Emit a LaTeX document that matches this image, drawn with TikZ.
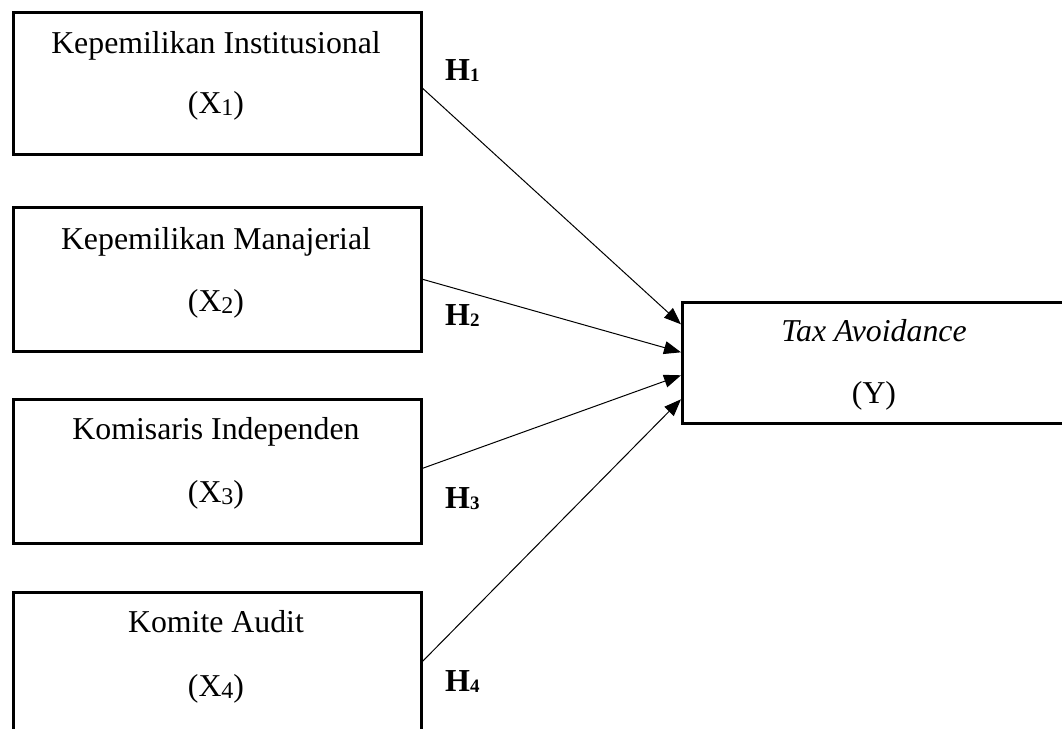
\documentclass[tikz,border=0pt]{standalone}
\usepackage{fontspec}
\setmainfont{Liberation Serif}
\usetikzlibrary{arrows.meta,calc}
\newcommand{\xsub}[1]{\raisebox{-2.5pt}{\fontsize{24}{24}\selectfont #1}}
\newcommand{\hsub}[1]{\raisebox{-1.5pt}{\fontsize{19}{19}\selectfont\bfseries #1}}
\begin{document}
\begin{tikzpicture}[x=1pt,y=-1pt,
 box/.style={draw,line width=2.6pt,rectangle,inner sep=0pt,anchor=north west},
 lbl/.style={anchor=base,inner sep=0pt,font=\fontsize{31.8}{36}\selectfont},
 hyp/.style={anchor=base west,inner sep=0pt,font=\fontsize{32}{36}\selectfont\bfseries},
 arr/.style={line width=1pt,-{Triangle[length=17pt,width=13pt]}}]
\useasboundingbox (0,0) rectangle (1062,728);
\clip (0,0) rectangle (1062,728);
% boxes
\node[box,minimum width=408pt,minimum height=142pt] (b1) at (12,11) {};
\node[box,minimum width=408pt,minimum height=144pt] (b2) at (12,206) {};
\node[box,minimum width=408pt,minimum height=144pt] (b3) at (12,398) {};
\node[box,minimum width=408pt,minimum height=144pt] (b4) at (12,591) {};
\node[box,minimum width=386pt,minimum height=121pt] (y) at (681,301) {};
% texts
\node[lbl] (t1a) at (216,53) {Kepemilikan Institusional};
\node[lbl] (t1b) at (216,113) {(X\xsub{1})};
\node[lbl] (t2a) at (216,249) {Kepemilikan Manajerial};
\node[lbl] (t2b) at (216,311) {(X\xsub{2})};
\node[lbl] (t3a) at (216,439) {Komisaris Independen};
\node[lbl] (t3b) at (216,502) {(X\xsub{3})};
\node[lbl] (t4a) at (216,632) {Komite Audit};
\node[lbl] (t4b) at (216,696) {(X\xsub{4})};
\node[lbl] (tya) at (874,341) {\itshape Tax Avoidance};
\node[lbl] (tyb) at (874,403) {(Y)};
% arrows
\draw[arr] ($(b1.east)+(0,5)$) -- ($(y.west)+(0,-38.5)$);
\draw[arr] ($(b2.east)+(0,0)$) -- ($(y.west)+(0,-10.5)$);
\draw[arr] ($(b3.east)+(0,-3)$) -- ($(y.west)+(0,12.5)$);
\draw[arr] ($(b4.east)+(0,-3)$) -- ($(y.west)+(0,36.5)$);
% hypothesis labels
\node[hyp] (h1) at (445,80) {H\hsub{1}};
\node[hyp] (h2) at (445,325) {H\hsub{2}};
\node[hyp] (h3) at (445,508) {H\hsub{3}};
\node[hyp] (h4) at (445,691) {H\hsub{4}};
\end{tikzpicture}
\end{document}
